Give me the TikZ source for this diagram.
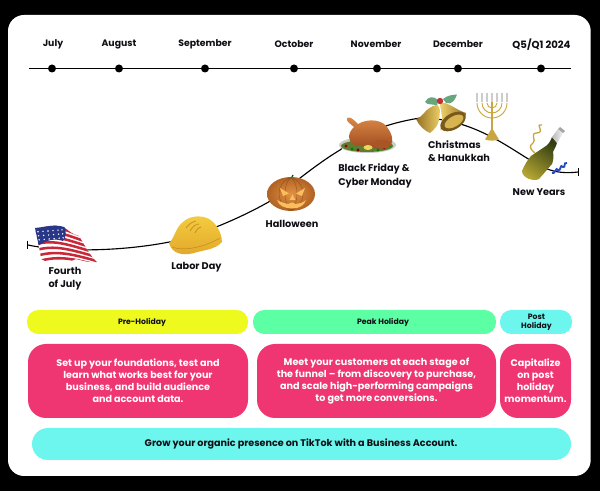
\documentclass[tikz,border=0pt]{standalone}
\usepackage{fontspec}
\setmainfont{Poppins}
\usetikzlibrary{calc}
\definecolor{pinkc}{HTML}{EF3672}
\definecolor{yel}{HTML}{EEF91E}
\definecolor{grn}{HTML}{5CFFA4}
\definecolor{cya}{HTML}{6CF6EE}
\definecolor{ink}{HTML}{0E0E14}
\definecolor{gold}{HTML}{C9A63F}
\definecolor{fred}{RGB}{200,40,55}
\definecolor{fblue}{RGB}{40,55,135}
\definecolor{hatL}{RGB}{244,205,65}
\definecolor{hatD}{RGB}{226,168,42}
\definecolor{hatE}{RGB}{190,130,30}
\definecolor{pumpL}{RGB}{226,146,66}
\definecolor{pumpD}{RGB}{176,98,36}
\definecolor{pumpR}{RGB}{110,55,20}
\definecolor{glow}{RGB}{250,190,95}
\definecolor{plate}{RGB}{205,205,200}
\definecolor{salad}{RGB}{95,125,50}
\definecolor{tkL}{RGB}{222,138,72}
\definecolor{tkD}{RGB}{155,72,30}
\definecolor{tkM}{RGB}{170,85,40}
\definecolor{lemon}{RGB}{235,215,90}
\definecolor{leaf}{RGB}{105,165,125}
\definecolor{bellA}{RGB}{238,210,105}
\definecolor{bellB}{RGB}{150,112,35}
\definecolor{bellC}{RGB}{120,88,28}
\definecolor{bellD}{RGB}{215,180,80}
\definecolor{berry}{RGB}{190,50,55}
\definecolor{botD}{RGB}{50,62,18}
\definecolor{botL}{RGB}{180,165,50}
\definecolor{ribbon}{RGB}{35,75,190}
\tikzset{
 month/.style={font=\fontsize{7}{8}\selectfont\bfseries,text=ink,inner sep=0pt,anchor=center},
 event/.style={font=\fontsize{7.3}{10}\selectfont\bfseries,text=ink,inner sep=0pt,align=center,anchor=center},
 tick/.style={circle,fill=black,inner sep=0pt,minimum size=6pt},
 phase/.style={rounded corners=8.5pt,inner sep=0pt},
 phasetext/.style={inner sep=0pt,font=\fontsize{5.8}{6.8}\selectfont\bfseries,text=ink,align=center},
 card/.style={rounded corners=13.5pt,inner sep=0pt,font=\fontsize{7.2}{9}\selectfont\bfseries,text=white,align=center},
 banner/.style={rounded corners=12pt,inner sep=0pt},
 bannertext/.style={inner sep=0pt,font=\fontsize{7.2}{8}\selectfont\bfseries,text=ink},
 line/.style={draw=black,line width=0.85pt}
}
\newcommand{\bx}[7]{\node[#1,fill=#2,minimum width=#5*0.75pt-#3*0.75pt,minimum height=#6*0.75pt-#4*0.75pt] (#7) at ({(#3+#5)/2},{(#4+#6)/2})}
\begin{document}
\begin{tikzpicture}[x=0.75pt,y=-0.75pt]
\useasboundingbox (0,0) rectangle (600,491);
\fill[black] (0,0) rectangle (600,491);
\fill[white,rounded corners=12pt] (8,15) rectangle (590.7,476);
% timeline
\coordinate (tlL) at (29,68.5);
\coordinate (tlR) at (571,68.5);
\draw[line] (tlL) -- (tlR);
\node[tick] (dj) at (52,68.5) {};
\node[tick] (da) at (119,68.5) {};
\node[tick] (ds) at (205,68.5) {};
\node[tick] (do) at (294,68.5) {};
\node[tick] (dn) at (377,68.5) {};
\node[tick] (dd) at (458,68.5) {};
\node[tick] (dq) at (541,68.5) {};
\node[month] (mj) at (53,44) {July};
\node[month] (ma) at (119,44.5) {August};
\node[month] (ms) at (205,44.5) {September};
\node[month] (mo) at (294,44.5) {October};
\node[month] (mn) at (376,44.5) {November};
\node[month,font=\fontsize{7.6}{8}\selectfont\bfseries] (mq) at (541.5,44.5) {Q5/Q1 2024};
\node[month] (md) at (458,44.5) {December};
% journey curve
\coordinate (cs) at (28,245);
\coordinate (ce) at (578,172);
\draw[line] (cs) .. controls (60,252) and (120,252) .. (172,241.5)
  .. controls (210,232) and (250,213) .. (272,200)
  .. controls (300,178) and (320,162) .. (340,150)
  .. controls (365,130) and (395,122) .. (420,118)
  .. controls (470,118) and (505,145) .. (530,160)
  .. controls (548,172) and (562,174) .. (ce);
\draw[line] (27.5,241) -- (27.5,249);
\draw[line] (578.5,168) -- (578.5,176);
% ---- flag
\begin{scope}
\clip (35,228) .. controls (45,227) and (55,224) .. (64,227) .. controls (70,232) and (72,234) .. (79,236)
 .. controls (84,244) and (90,256) .. (97,262) .. controls (90,263) and (84,261) .. (76,259)
 .. controls (70,262) and (62,264) .. (56,263) .. controls (50,262) and (46,262) .. (41,259) .. controls (40,250) and (37,238) .. (35,228) -- cycle;
\fill[white] (30,220) rectangle (100,270);
\foreach \a/\b in {222/238,228/242,234/246,240/250,246/254,252/258,258/262,264/266}
 \draw[draw=fred,line width=1.9pt] (30,\a) .. controls (52,{\a-8}) and (66,{\b-10}) .. (100,\b);
\fill[fblue] (33,226) -- (64,224) .. controls (67,232) and (66,238) .. (63,241) .. controls (55,238) and (46,240) .. (38,246) -- cycle;
\foreach \x in {38,43,48,53,58,62}\foreach \y in {230,234,238}
 \fill[white] ({\x+(\y-230)*0.15},{\y+(60-\x)*0.08}) circle[radius=0.8];
\end{scope}
% ---- hard hat
\path[top color=hatL,bottom color=hatD]
 (169,243) .. controls (175,238) and (175,228) .. (183,222) .. controls (190,215) and (205,214) .. (213,222)
 .. controls (219,228) and (222,236) .. (222,242) .. controls (215,250) and (203,250) .. (194,253)
 .. controls (183,256) and (172,254) .. (169,243) -- cycle;
\draw[hatE,line width=0.5pt,opacity=.7] (172,247) .. controls (185,252) and (207,246) .. (220,238);
\draw[hatE,line width=0.7pt,opacity=.7] (186,228) .. controls (189,224) and (192,222) .. (196,221);
\draw[hatE,line width=0.7pt,opacity=.7] (190,231) .. controls (193,226) and (196,224) .. (199,224);
\draw[hatE,line width=0.7pt,opacity=.7] (195,233) .. controls (197,229) and (199,227) .. (201,227);
% ---- pumpkin
\draw[green!35!black,line width=1pt] (291,179) -- (293,175);
\shade[inner color=pumpL,outer color=pumpD] (291,194) ellipse[x radius=24,y radius=17];
\foreach \r in {8,16}{
 \draw[draw=pumpR,line width=0.4pt,opacity=.45] (291,177.5) .. controls ({291-\r},183) and ({291-\r},204) .. (291,210.5);
 \draw[draw=pumpR,line width=0.4pt,opacity=.45] (291,177.5) .. controls ({291+\r},183) and ({291+\r},204) .. (291,210.5);}
\fill[glow] (280,188) -- (289,193.5) -- (283,196) -- cycle;
\fill[glow] (305,188) -- (296,193.5) -- (302,196) -- cycle;
\fill[glow] (292.5,194.5) -- (295.5,200) -- (289.5,200) -- cycle;
\fill[glow] (277,200) .. controls (282,203) and (285,203) .. (288,204) -- (292,202.5) -- (296,204) .. controls (300,203) and (303,203) .. (306,200)
 .. controls (304,206) and (299,208.5) .. (292,208.5) .. controls (285,208.5) and (279,206) .. (277,200) -- cycle;
% ---- turkey
\fill[plate] (367.5,145) ellipse[x radius=28.5,y radius=8];
\fill[salad] (367,146) ellipse[x radius=26,y radius=6];
\foreach \x/\y/\c in {346/146/red!60!black,352/149/green!50!black,358/150/red!50!black,378/150/green!50!black,384/148/red!60!black,390/146/green!60!black}
 \fill[\c] (\x,\y) circle[radius=1.7];
\path[top color=tkL,bottom color=tkD]
 (347,118) .. controls (350,116) and (354,120) .. (358,124) .. controls (368,118) and (384,119) .. (389,130)
 .. controls (394,138) and (393,146) .. (388,147) .. controls (382,150) and (375,149) .. (370,146)
 .. controls (362,147) and (352,146) .. (350,141) .. controls (347,135) and (351,130) .. (354,127)
 .. controls (351,124) and (346,122) .. (347,118) -- cycle;
\fill[tkM] (375,141) .. controls (382,138) and (392,141) .. (392,145) .. controls (388,149) and (378,149) .. (373,146) -- cycle;
\fill[lemon] (368,147.5) ellipse[x radius=4.5,y radius=2.5];
% ---- bells
\fill[leaf] (425,102) .. controls (428,96) and (434,96) .. (438,100) -- (437,106) .. controls (433,103) and (428,106) .. (425,102) -- cycle;
\fill[leaf] (443,99) .. controls (448,95) and (452,95) .. (457,94.5) .. controls (455,100) and (452,105) .. (446,103) -- cycle;
\path[left color=bellB,right color=bellA]
 (437,105) .. controls (441,107) and (440,112) .. (439,120) .. controls (438,125) and (436,128) .. (430,133)
 .. controls (425,131) and (419,126) .. (416,119) .. controls (423,118) and (425,107) .. (437,105) -- cycle;
\path[left color=bellA,right color=bellB]
 (440,103) .. controls (447,101) and (454,109) .. (466,113) .. controls (466,122) and (453,132) .. (440,130)
 .. controls (444,122) and (441,112) .. (440,103) -- cycle;
\fill[bellC,rotate around={30:(453,121.5)}] (453,121.5) ellipse[x radius=14,y radius=8];
\fill[bellD,rotate around={30:(454,121.5)}] (454,121.5) ellipse[x radius=10.5,y radius=5.2];
\fill[berry] (440,101) circle[radius=3.2];
% ---- menorah
\foreach \r in {5,10,15}{
 \draw[gold,line width=0.7pt] ({492-\r},103) arc[start angle=180,end angle=0,radius=\r];}
\draw[gold,line width=1pt] (492,97) -- (492,132);
\fill[gold] (492,128) -- (499,139.5) .. controls (494,141) and (490,141) .. (485,139.5) -- cycle;
\foreach \x in {477,482,487,492,497,502,507}
 \draw[gray!40,line width=1.5pt] (\x,93) -- (\x,102.5);
% ---- bottle
\draw[gold,line width=1pt] (542,125) .. controls (534,124) and (546,132) .. (537,133) .. controls (529,133) and (537,141) .. (533,143) .. controls (528,146) and (531,150) .. (535,153);
\path[left color=botD,right color=botL,shading angle=-35]
 (522,171) .. controls (524,166) and (528,159) .. (531,156) -- (546,146) .. controls (549,144) and (551,140) .. (552,137)
 -- (557,143) .. controls (556,147) and (554,149) .. (553,152) .. controls (554,156) and (553,162) .. (552,164)
 -- (539,179) .. controls (534,182) and (522,178) .. (522,171) -- cycle;
\path[left color=gray!55,right color=gray!10] (552,137) -- (558,129) -- (563,133) -- (557,143) -- cycle;
\fill[gray!70] (558,129) -- (560,127) -- (565,131) -- (563,133) -- cycle;
\draw[draw=ribbon,line width=1.4pt] (552,173) .. controls (555,175) and (556,166) .. (558,170) .. controls (561,172) and (560,163) .. (563,167) .. controls (566,168) and (563,162) .. (567,163);
% event labels
\node[event] (l1) at (65,279) {Fourth\\of July};
\node[event] (l2) at (196.5,267) {Labor Day};
\node[event] (l3) at (292,223.5) {Halloween};
\node[event,align=left] (l4) at (375,176) {Black Friday \&\\Cyber Monday};
\node[event,align=left] (l5) at (459,151) {Christmas\\\& Hanukkah};
\node[event] (l6) at (539,192.5) {New Years};
% phases
\bx{phase}{yel}{27}{310}{248}{334}{p1} {};
\bx{phase}{grn}{253}{310}{496}{334}{p2} {};
\bx{phase}{cya}{500}{310}{572}{334}{p3} {};
\node[phasetext] (pt1) at (142,322) {Pre-Holiday};
\node[phasetext] (pt2) at (383,322) {Peak Holiday};
\node[phasetext] (pt3) at (536.5,322) {Post\\[-0.2pt]Holiday};
% cards
\bx{card}{pinkc}{28}{344}{248}{418}{c1} {Set up your foundations, test and\\learn what works best for your\\business, and build audience\\and account data.};
\bx{card}{pinkc}{257}{344}{496}{418}{c2} {Meet your customers at each stage of\\the funnel – from discovery to purchase,\\and scale high-performing campaigns\\to get more conversions.};
\bx{card}{pinkc}{500}{344}{571}{418}{c3} {Capitalize\\on post\\holiday\\momentum.};
\bx{banner}{cya}{32}{428}{571}{460}{b1} {};
\node[bannertext] (bt) at (301,443.5) {Grow your organic presence on TikTok with a Business Account.};
\end{tikzpicture}
\end{document}
